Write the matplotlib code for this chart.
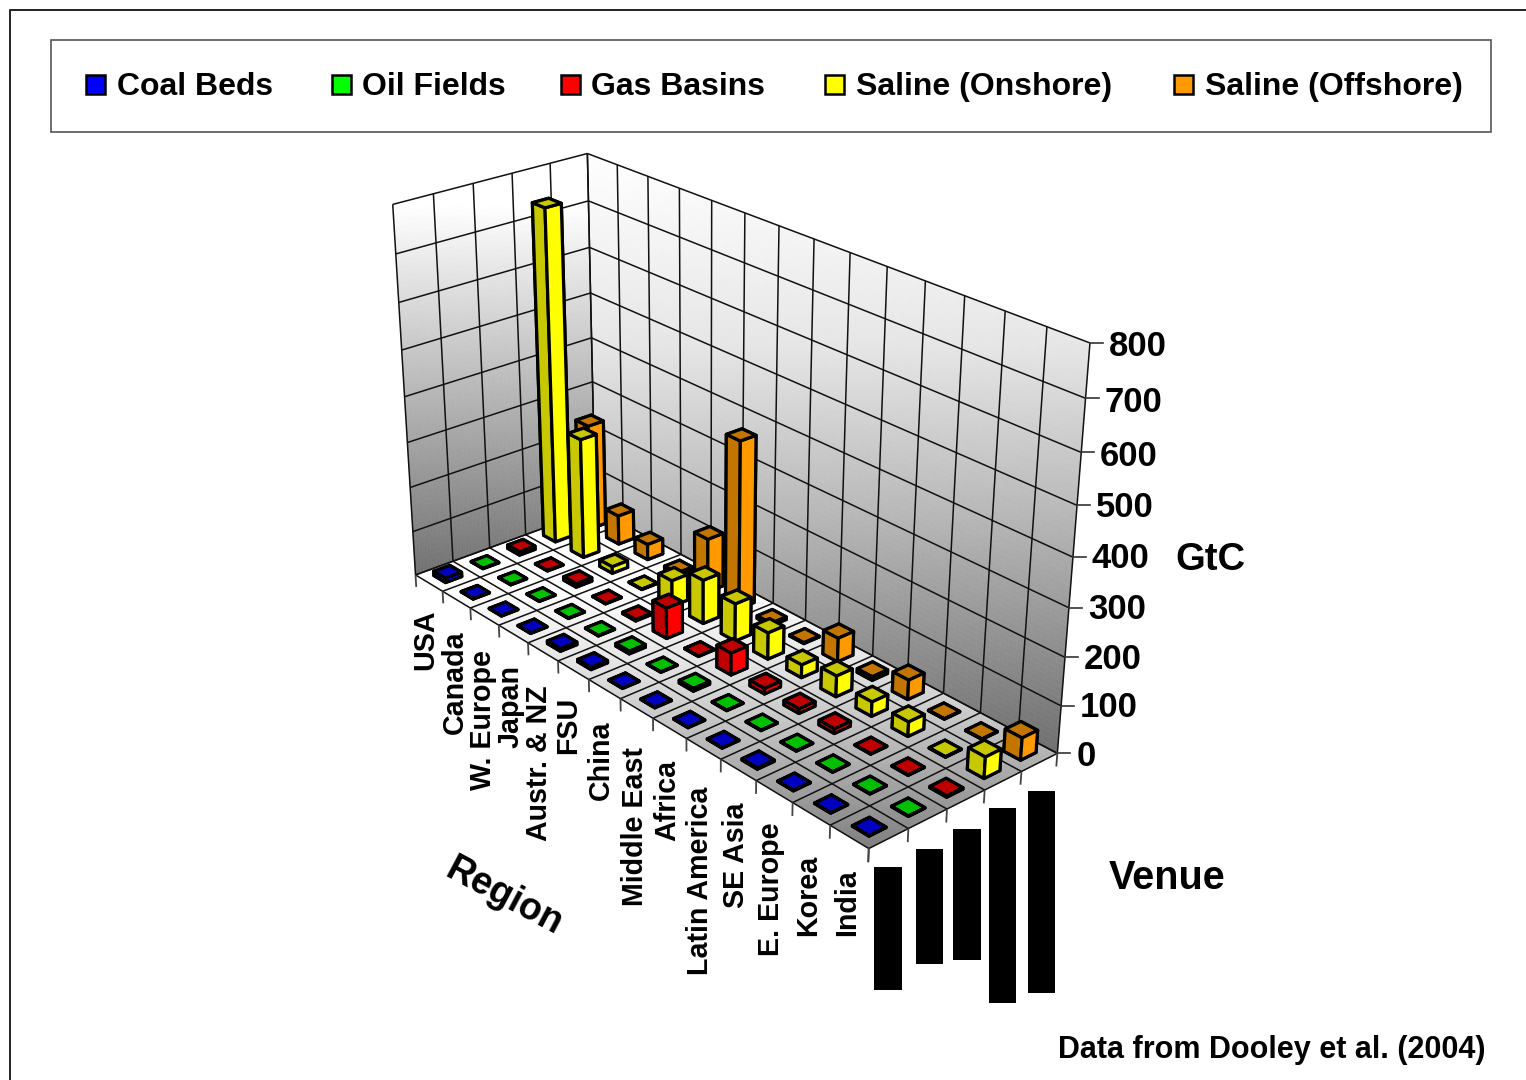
import numpy as np
import matplotlib
matplotlib.use("Agg")
import matplotlib.pyplot as plt
from matplotlib.lines import Line2D
from matplotlib.patches import Rectangle
from mpl_toolkits.mplot3d.art3d import Line3DCollection, Poly3DCollection

W, H = 1526, 1080

regions = ["USA", "Canada", "W. Europe", "Japan", "Austr. & NZ", "FSU", "China",
           "Middle East", "Africa", "Latin America", "SE Asia", "E. Europe", "Korea", "India"]
venues = ["Coal Beds", "Oil Fields", "Gas Basins", "Saline (Onshore)", "Saline (Offshore)"]

# GtC per region
coal_beds = [10, 1, 1, 1, 6, 5, 1, 1, 1, 1, 3, 1, 1, 1]
oil_fields = [1, 1, 1, 1, 1, 6, 1, 6, 1, 1, 1, 1, 1, 1]
gas_basins = [8, 1, 8, 1, 3, 68, 1, 48, 12, 10, 10, 1, 1, 3]
saline_onshore = [740, 270, 15, 1, 58, 97, 83, 58, 28, 45, 31, 31, 1, 45]
saline_offshore = [240, 66, 35, 6, 120, 370, 6, 2, 52, 8, 42, 1, 1, 47]

z_ticks = [0, 100, 200, 300, 400, 500, 600, 700, 800]

# bright side, then dark side and top
venue_bright = ["#0000ff", "#00ff00", "#ff0000", "#ffff00", "#ff9900"]
venue_dark = ["#0000c0", "#00c000", "#c00000", "#c8c800", "#c27600"]

# camera fitted on the chart box corners: (region, venue, GtC) -> pixel
box_world = np.array([[0, 0, 0], [14, 0, 0], [14, 5, 0], [0, 5, 0],
                      [0, 0, 800], [0, 5, 800], [14, 5, 800], [14, 5, 400]], float)
box_pixel = np.array([[416, 574], [869, 849], [1057, 754], [595, 510],
                      [392, 205], [588, 153], [1090, 344], [1073, 555]], float)


def fit_camera(world, pixel):
    s = np.array([14.0, 5.0, 800.0])
    rows = []
    for (a, b, c), (u, v) in zip(world / s, pixel):
        rows.append([a, b, c, 1, 0, 0, 0, 0, -u * a, -u * b, -u * c, -u])
        rows.append([0, 0, 0, 0, a, b, c, 1, -v * a, -v * b, -v * c, -v])
    vec = np.linalg.svd(np.array(rows))[2][-1].reshape(3, 4)
    vec = vec @ np.diag([1 / 14, 1 / 5, 1 / 800, 1])
    return vec / vec[2, 3]


P = fit_camera(box_world, box_pixel)


def to_pixel(x, y, z):
    pts = np.stack([np.asarray(x, float), np.asarray(y, float), np.asarray(z, float),
                    np.ones_like(np.asarray(x, float))])
    q = P @ pts
    return q[0] / q[2], q[1] / q[2]


def fx(px):
    return px / W


def fy(py):
    return 1 - py / H


fig = plt.figure(figsize=(W / 100, H / 100), dpi=100, facecolor="white")
plt.rcParams["font.family"] = "Liberation Sans"
plt.rcParams["font.weight"] = "bold"

# square axes so one view unit is one pixel both ways
ax = fig.add_axes([0, -(W - H) / 2 / H, 1, W / H], projection="3d", computed_zorder=False)
ax.set_axis_off()
ax.patch.set_visible(False)

M = np.array([P[0], H * P[2] - P[1], [0, 0, 0, -1], P[2]])
ax.get_proj = lambda: M


def gradient_wall(corner_fn, ys, greys, n=70):
    u = np.linspace(0, 1, n + 1)
    verts = []
    cols = []
    for i in range(n):
        for j in range(n):
            quad = [corner_fn(u[i], u[j]), corner_fn(u[i + 1], u[j]),
                    corner_fn(u[i + 1], u[j + 1]), corner_fn(u[i], u[j + 1])]
            cx, cy, cz = np.mean(quad, axis=0)
            g = np.interp(to_pixel(cx, cy, cz)[1], ys, greys) / 255
            verts.append(quad)
            cols.append((g, g, g, 1))
    wall = Poly3DCollection(verts, facecolors=cols, edgecolors=cols, linewidths=0.4)
    wall.set_zorder(1)
    ax.add_collection3d(wall)


# side wall, back wall, floor
gradient_wall(lambda a, b: (0, 5 * a, 800 * b), [205, 575], [255, 112])
gradient_wall(lambda a, b: (14 * a, 5, 800 * b), [153, 345, 512, 755], [255, 230, 184, 110])
gradient_wall(lambda a, b: (14 * a, 5 * b, 0), [585, 665, 750, 850], [255, 228, 182, 125])

grid_segments = []
tick_segments = []
for z in z_ticks:
    grid_segments.append([(0, 0, z), (0, 5, z)])
    grid_segments.append([(0, 5, z), (14, 5, z)])
for v in range(6):
    grid_segments.append([(0, v, 0), (0, v, 800)])
    grid_segments.append([(0, v, 0), (14, v, 0)])
    tick_segments.append([(14, v, 0), (14, v, -28)])
for r in range(15):
    grid_segments.append([(r, 5, 0), (r, 5, 800)])
    grid_segments.append([(r, 0, 0), (r, 5, 0)])
    tick_segments.append([(r, 0, 0), (r, 0, -28)])

grid = Line3DCollection(grid_segments, colors="#111111", linewidths=1.1)
grid.set_zorder(2)
ax.add_collection3d(grid)
ticks = Line3DCollection(tick_segments, colors="#444444", linewidths=1.3)
ticks.set_zorder(2)
ax.add_collection3d(ticks)

series = [coal_beds, oil_fields, gas_basins, saline_onshore, saline_offshore]
bar_w = 0.43
order = 10
for r in range(len(regions)):
    for v in range(len(venues) - 1, -1, -1):
        b, d = venue_bright[v], venue_dark[v]
        col = ax.bar3d(r + 0.5 - bar_w / 2, v + 0.5 - bar_w / 2, 0, bar_w, bar_w, series[v][r],
                       color=[d, d, d, d, d, b], shade=False, edgecolor="k", linewidth=2.3)
        col.set_zorder(order)
        order += 1

ax.viewLim.intervalx = (0, W)
ax.viewLim.intervaly = (-(W - H) / 2, H + (W - H) / 2)

# z axis ticks and labels
z_label_y = [753, 704, 656, 606, 555, 504, 453, 399, 343]
for z, ty in zip(z_ticks, z_label_y):
    px, py = to_pixel(14, 5, z)
    fig.add_artist(Line2D([fx(px), fx(px + 13)], [fy(py), fy(py)], color="#333333", lw=1.2))
    fig.text(fx(px + 19), fy(ty), str(z), fontsize=25, ha="left", va="center_baseline")

# region labels run down from the floor
region_x = [425, 455, 483, 511, 539, 568, 601, 635, 667, 700, 736, 771, 808, 847]
region_top = [609, 630, 650, 665, 685, 697, 720, 747, 760, 787, 802, 822, 855, 869]
for name, x, top in zip(regions, region_x, region_top):
    fig.text(fx(x), fy(top), name, rotation=90, fontsize=20.6, ha="center", va="top")

# venue labels came out as solid blocks
venue_blocks = [(874, 867, 902, 990), (916, 849, 943, 964), (953, 829, 981, 960),
                (989, 808, 1016, 1003), (1028, 791, 1055, 993)]
for x0, y0, x1, y1 in venue_blocks:
    fig.add_artist(Rectangle((fx(x0), fy(y1)), (x1 - x0) / W, (y1 - y0) / H,
                             transform=fig.transFigure, facecolor="k", edgecolor="none"))

fig.text(fx(504), fy(897), "Region", rotation=-28, fontsize=27, ha="center", va="center",
         rotation_mode="anchor")
fig.text(fx(1167), fy(878), "Venue", fontsize=28.5, ha="center", va="center")
fig.text(fx(1210), fy(560), "GtC", fontsize=27.5, ha="center", va="center")
fig.text(fx(1485), fy(1050), "Data from Dooley et al. (2004)", fontsize=22, ha="right", va="center")

# legend box and outer frame
fig.add_artist(Rectangle((fx(51), fy(132)), 1440 / W, 92 / H, transform=fig.transFigure,
                         facecolor="none", edgecolor="#555555", lw=1.2))
fig.add_artist(Line2D([fx(10), fx(10), 1], [0, fy(10), fy(10)], color="#222222", lw=1.4))
swatch_x = [86, 332, 561, 825, 1174]
text_x = [117, 362, 591, 856, 1205]
for name, sx, tx, c in zip(venues, swatch_x, text_x, venue_bright):
    fig.add_artist(Rectangle((fx(sx), fy(94)), 19 / W, 19 / H, transform=fig.transFigure,
                             facecolor=c, edgecolor="k", lw=1.8))
    fig.text(fx(tx), fy(87), name, fontsize=23, ha="left", va="center")

fig.savefig("out.png", dpi=100)
